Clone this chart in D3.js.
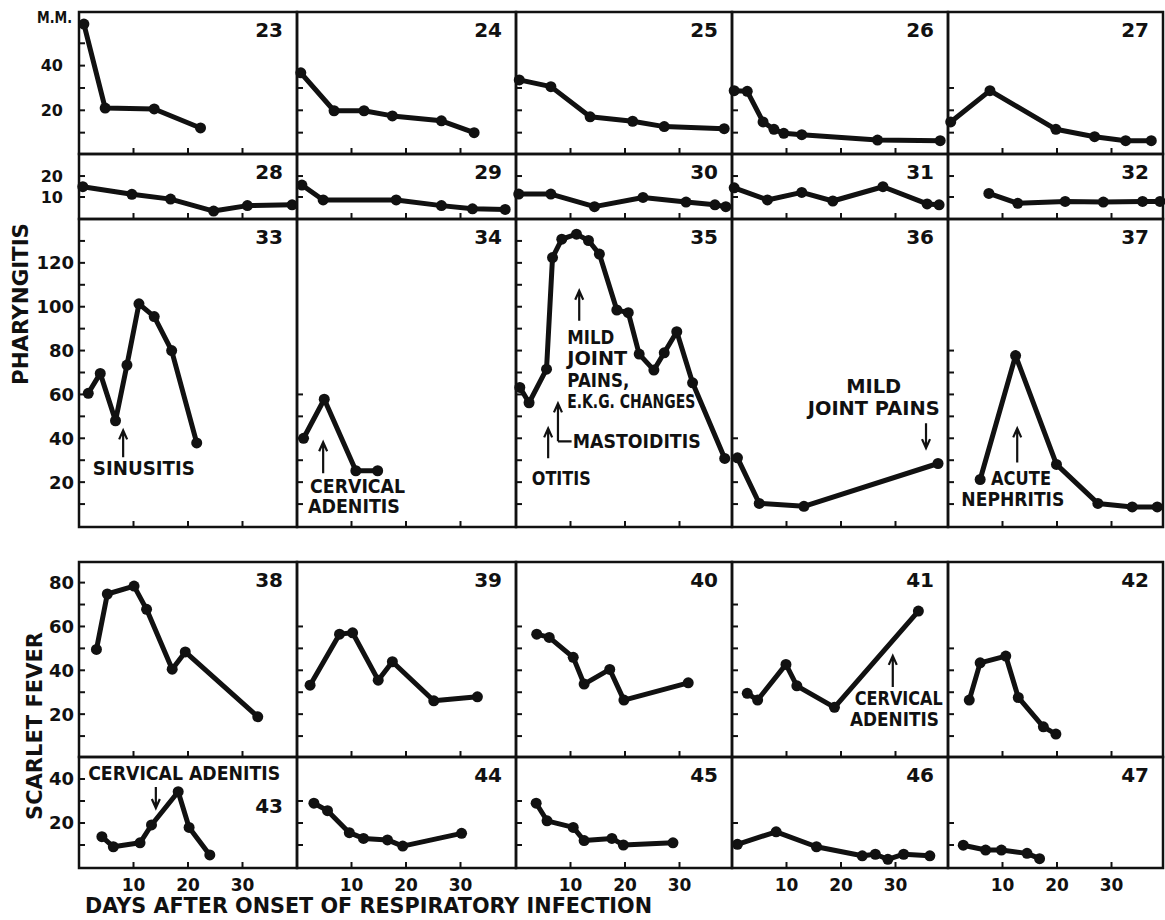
<!DOCTYPE html>
<html>
<head>
<meta charset="utf-8">
<script src="https://cdn.jsdelivr.net/npm/d3@7"></script>
<style>
  body { margin: 0; background: #fff; }
  text { font-family: "DejaVu Sans", sans-serif; font-weight: bold; fill: #111; }
</style>
</head>
<body>
<div id="chart"></div>
<script>
// ---- data: [day, value] per case ----
var case23 = [[0.9,58.6],[4.8,21.0],[13.8,20.6],[22.3,12.1]];
var case24 = [[0.7,36.8],[6.8,19.8],[12.3,19.8],[17.5,17.5],[26.5,15.3],[32.5,10.0]];
var case25 = [[0.6,33.6],[6.4,30.6],[13.6,17.1],[21.4,15.1],[27.2,12.7],[38.2,11.8]];
var case26 = [[0.4,28.8],[2.8,28.5],[5.7,14.8],[7.7,11.5],[9.5,9.7],[12.8,9.1],[26.7,6.7],[38.2,6.4]];
var case27 = [[0.5,14.8],[7.7,28.8],[19.8,11.5],[26.9,8.2],[32.6,6.4],[37.3,6.4]];
var case28 = [[0.7,14.9],[9.7,11.3],[16.8,9.0],[24.7,3.3],[30.9,5.9],[39.1,6.3]];
var case29 = [[0.9,15.7],[4.8,8.6],[18.2,8.6],[26.5,5.9],[32.2,4.4],[38.2,4.1]];
var case30 = [[0.5,11.4],[6.4,11.4],[14.4,5.4],[23.3,9.8],[31.2,7.6],[36.5,6.3],[38.5,5.4]];
var case31 = [[0.4,14.4],[6.5,8.6],[12.8,12.2],[18.5,8.1],[27.7,14.9],[35.8,6.7],[38.0,6.3]];
var case32 = [[7.5,11.7],[12.8,7.0],[21.5,7.9],[28.5,7.6],[35.7,7.9],[38.9,7.9]];
var case33 = [[1.7,60.5],[3.9,69.6],[6.7,48.0],[8.8,73.4],[11.0,101.3],[13.8,95.5],[17.0,80.0],[21.6,37.9]];
var case34 = [[1.2,40.0],[5.0,57.8],[10.8,25.2],[14.8,25.2]];
var case35 = [[0.7,63.2],[2.4,56.2],[5.6,71.5],[6.7,122.4],[8.4,130.8],[11.1,133.1],[13.3,130.2],[15.3,124.0],
              [18.5,98.5],[20.6,97.3],[22.6,78.4],[25.3,71.1],[27.2,79.0],[29.5,88.6],[32.4,65.3],[38.3,30.8]];
var case36 = [[1.0,31.1],[5.0,10.3],[13.2,9.0],[37.8,28.5]];
var case37 = [[5.9,21.2],[12.4,77.7],[19.9,28.1],[27.5,10.3],[33.8,8.7],[38.4,8.7]];
var case38 = [[3.2,49.5],[5.2,74.8],[10.1,78.4],[12.4,67.8],[17.1,40.5],[19.5,48.4],[32.8,18.8]];
var case39 = [[2.4,33.2],[7.8,56.5],[10.2,57.1],[14.9,35.5],[17.5,43.9],[25.1,26.1],[33.1,27.9]];
var case40 = [[3.8,56.5],[6.1,55.0],[10.5,45.9],[12.5,33.7],[17.2,40.4],[19.8,26.4],[31.6,34.3]];
var case41 = [[2.8,29.5],[4.7,26.4],[9.9,42.7],[11.9,32.9],[18.8,23.1],[34.2,67.0]];
var case42 = [[3.9,26.4],[5.9,43.4],[10.6,46.5],[12.9,27.6],[17.5,14.2],[19.8,10.9]];
var case43 = [[4.2,13.8],[6.3,9.2],[11.2,11.0],[13.3,19.1],[18.2,34.2],[20.2,18.0],[24.0,5.5]];
var case44 = [[3.1,29.0],[5.6,25.6],[9.6,15.6],[12.2,13.0],[16.6,12.3],[19.4,9.5],[30.2,15.3]];
var case45 = [[3.7,29.0],[5.7,21.0],[10.5,18.0],[12.5,12.0],[17.6,13.0],[19.7,10.0],[28.8,11.0]];
var case46 = [[1.0,10.3],[8.1,16.0],[15.5,9.2],[23.9,5.1],[26.3,5.8],[28.6,3.5],[31.5,5.8],[36.3,5.1]];
var case47 = [[2.8,9.9],[6.9,7.7],[9.8,7.7],[14.5,6.2],[16.8,3.8]];

var cases = [case23, case24, case25, case26, case27,
             case28, case29, case30, case31, case32,
             case33, case34, case35, case36, case37,
             case38, case39, case40, case41, case42,
             case43, case44, case45, case46, case47];
var caseNumbers = d3.range(23, 48);

// highest inward y tick per panel (ticks every 10)
var tickTops = [50,30,30,30,30, 20,20,20,20,20, 130,60,130,40,80, 80,60,60,70,50, 40,30,30,20,20];
var dayTicks = [10, 20, 30];
var rowLabels = [[20,40], [10,20], [20,40,60,80,100,120], [20,40,60,80], [20,40]];

var notes = [
  {id:33, text:"SINUSITIS", day:11.9, val:23.2, anchor:"middle", w:102},
  {id:34, text:"CERVICAL", day:2.4, val:15.0, anchor:"start", w:95},
  {id:34, text:"ADENITIS", day:2.0, val:5.9, anchor:"start", w:92},
  {id:35, text:"MILD", day:9.4, val:83.2, anchor:"start", w:47},
  {id:35, text:"JOINT", day:9.4, val:73.2, anchor:"start", w:60},
  {id:35, text:"PAINS,", day:9.4, val:63.2, anchor:"start", w:62},
  {id:35, text:"E.K.G. CHANGES", day:9.4, val:53.6, anchor:"start", w:128},
  {id:35, text:"MASTOIDITIS", day:10.4, val:35.5, anchor:"start", w:128},
  {id:35, text:"OTITIS", day:2.9, val:18.6, anchor:"start", w:59},
  {id:36, text:"MILD", day:26.0, val:60.5, anchor:"middle", w:55},
  {id:36, text:"JOINT PAINS", day:26.0, val:50.5, anchor:"middle", w:132},
  {id:37, text:"ACUTE", day:13.4, val:18.6, anchor:"middle", w:60},
  {id:37, text:"NEPHRITIS", day:11.9, val:9.1, anchor:"middle", w:103},
  {id:41, text:"CERVICAL", day:30.6, val:24.1, anchor:"middle", w:88},
  {id:41, text:"ADENITIS", day:29.8, val:14.5, anchor:"middle", w:89},
  {id:43, text:"CERVICAL ADENITIS", day:19.3, val:39.5, anchor:"middle", w:192}
];
var arrows = [
  {id:33, day:8.1, from:31.4, to:43.6},
  {id:34, day:4.8, from:24.0, to:38.2},
  {id:35, day:11.6, from:93.6, to:107.3},
  {id:35, day:7.7, from:38.6, to:55.9, hook:10.2},
  {id:35, day:5.9, from:30.9, to:44.5},
  {id:36, day:35.6, from:46.8, to:35.5},
  {id:37, day:12.7, from:29.0, to:44.5},
  {id:41, day:29.5, from:32.4, to:46.6},
  {id:43, day:14.1, from:36.4, to:26.8}
];

// ---- layout ----
var W = 1165, H = 920;
var colEdges = [79, 297, 516, 732, 948, 1163];
var rowBoxes = [
  {top: 12,  bottom: 154, zero: 155, max: 64,   labelX: 63},
  {top: 154, bottom: 219, zero: 218, max: 30.5, labelX: 63},
  {top: 219, bottom: 527, zero: 526, max: 140,  labelX: 74},
  {top: 562, bottom: 757, zero: 758, max: 89.4, labelX: 74},
  {top: 757, bottom: 868, zero: 867, max: 50,   labelX: 74}
];
var pxPerTenDays = 54.5;

var svg = d3.select("#chart").append("svg")
  .attr("width", W)
  .attr("height", H);

var panels = [];
rowBoxes.forEach(function(rb, r){
  for (var c = 0; c < 5; c++) {
    var i = r*5 + c;
    var left = colEdges[c], right = colEdges[c+1];
    panels.push({
      i: i, r: r, c: c, id: caseNumbers[i], rb: rb, left: left, right: right,
      x: d3.scaleLinear().domain([0, 10]).range([left, left + pxPerTenDays]),
      y: d3.scaleLinear().domain([0, rb.max]).range([rb.zero, rb.top])
    });
  }
});
var byId = {};
panels.forEach(function(p){ byId[p.id] = p; });

panels.forEach(function(p){
  var g = svg.append("g").attr("class", "panel");

  //frame
  g.append("rect")
    .attr("x", p.left).attr("y", p.rb.top)
    .attr("width", p.right - p.left).attr("height", p.rb.bottom - p.rb.top)
    .attr("fill", "none").attr("stroke", "#111").attr("stroke-width", 2.5);

  //day ticks pointing up from the bottom
  g.selectAll("line.xt").data(dayTicks).enter().append("line")
    .attr("x1", function(d){ return p.x(d); }).attr("x2", function(d){ return p.x(d); })
    .attr("y1", p.rb.bottom).attr("y2", p.rb.bottom - 6)
    .attr("stroke", "#111").attr("stroke-width", 2);

  //value ticks pointing right from the left edge
  g.selectAll("line.yt").data(d3.range(10, tickTops[p.i] + 1, 10)).enter().append("line")
    .attr("x1", p.left).attr("x2", p.left + 6)
    .attr("y1", function(d){ return p.y(d); }).attr("y2", function(d){ return p.y(d); })
    .attr("stroke", "#111").attr("stroke-width", 2);

  //case line and points
  var pts = cases[p.i];
  g.append("path")
    .attr("d", d3.line().x(function(d){ return p.x(d[0]); }).y(function(d){ return p.y(d[1]); })(pts))
    .attr("fill", "none").attr("stroke", "#111")
    .attr("stroke-width", 5).attr("stroke-linejoin", "round").attr("stroke-linecap", "round");
  g.selectAll("circle").data(pts).enter().append("circle")
    .attr("cx", function(d){ return p.x(d[0]); })
    .attr("cy", function(d){ return p.y(d[1]); })
    .attr("r", 5.5).attr("fill", "#111");

  //case number
  var numY = p.id === 43 ? p.y(24.5) : p.rb.top + 25;
  g.append("text")
    .attr("x", p.right - 14).attr("y", numY)
    .attr("text-anchor", "end")
    .style("font-size", "20px")
    .text(p.id);
});

//value labels on the left
rowBoxes.forEach(function(rb, r){
  var p = panels[r*5];
  svg.selectAll(null).data(rowLabels[r]).enter().append("text")
    .attr("x", rb.labelX)
    .attr("y", function(d){ return p.y(d); })
    .attr("dy", "0.36em")
    .attr("text-anchor", "end")
    .style("font-size", r < 2 ? "16px" : "18px")
    .text(function(d){ return d; });
});

//day labels under the last row
panels.filter(function(p){ return p.r === 4; }).forEach(function(p){
  svg.selectAll(null).data(dayTicks).enter().append("text")
    .attr("x", function(d){ return p.x(d); })
    .attr("y", 891)
    .attr("text-anchor", "middle")
    .style("font-size", "17px")
    .text(function(d){ return d; });
});

//notes
notes.forEach(function(n){
  var p = byId[n.id];
  svg.append("text")
    .attr("x", p.x(n.day)).attr("y", p.y(n.val))
    .attr("text-anchor", n.anchor)
    .attr("textLength", n.w).attr("lengthAdjust", "spacingAndGlyphs")
    .style("font-size", "19px")
    .text(n.text);
});

//arrows
arrows.forEach(function(a){
  var p = byId[a.id];
  var ax = p.x(a.day), y0 = p.y(a.from), y1 = p.y(a.to);
  var dir = y1 < y0 ? 1 : -1;
  var path = "M" + ax + "," + y0 + "L" + ax + "," + y1 +
    "M" + (ax - 4) + "," + (y1 + dir*9) + "L" + ax + "," + y1 + "L" + (ax + 4) + "," + (y1 + dir*9);
  if (a.hook) path += "M" + ax + "," + y0 + "L" + p.x(a.hook) + "," + y0;
  svg.append("path")
    .attr("d", path)
    .attr("fill", "none").attr("stroke", "#111").attr("stroke-width", 2.2);
});

//axis titles
svg.append("text")
  .attr("x", 37).attr("y", 23)
  .attr("textLength", 35).attr("lengthAdjust", "spacingAndGlyphs")
  .style("font-size", "15px")
  .text("M.M.");

svg.append("text")
  .attr("transform", "translate(28,304) rotate(-90)")
  .attr("text-anchor", "middle")
  .attr("textLength", 162).attr("lengthAdjust", "spacingAndGlyphs")
  .style("font-size", "21px")
  .text("PHARYNGITIS");

svg.append("text")
  .attr("transform", "translate(42,726) rotate(-90)")
  .attr("text-anchor", "middle")
  .attr("textLength", 188).attr("lengthAdjust", "spacingAndGlyphs")
  .style("font-size", "22px")
  .text("SCARLET FEVER");

svg.append("text")
  .attr("x", 85).attr("y", 913)
  .attr("textLength", 567).attr("lengthAdjust", "spacingAndGlyphs")
  .style("font-size", "21px")
  .text("DAYS AFTER ONSET OF RESPIRATORY INFECTION");
</script>
</body>
</html>
